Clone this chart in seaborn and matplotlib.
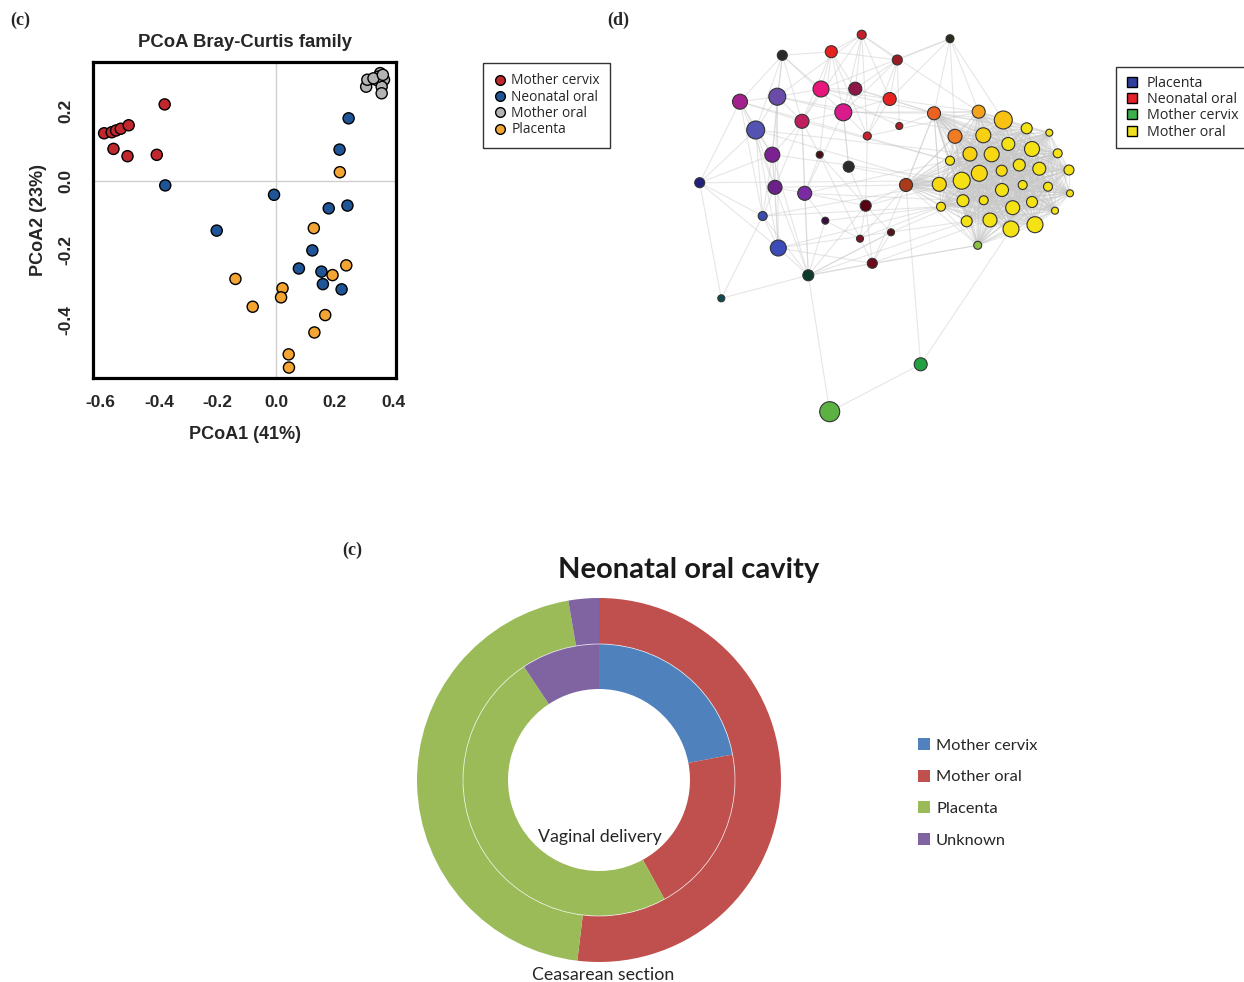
import itertools
import pandas as pd
import matplotlib
matplotlib.use("Agg")
import matplotlib.pyplot as plt
import seaborn as sns
from matplotlib.lines import Line2D
from matplotlib.patches import Patch
from matplotlib.collections import LineCollection

# ---- (c) PCoA Bray-Curtis family ----
cervix_x = [-0.588, -0.562, -0.547, -0.531, -0.504, -0.556, -0.508, -0.408, -0.381]
cervix_y = [0.137, 0.140, 0.145, 0.150, 0.160, 0.092, 0.071, 0.075, 0.220]
neo_x = [-0.379, -0.007, -0.203, 0.248, 0.217, 0.180, 0.244, 0.124, 0.078, 0.155, 0.160, 0.224]
neo_y = [-0.013, -0.040, -0.143, 0.180, 0.090, -0.079, -0.071, -0.200, -0.252, -0.261, -0.297, -0.312]
moral_x = [0.308, 0.312, 0.342, 0.356, 0.369, 0.361, 0.361, 0.350, 0.333, 0.365]
moral_y = [0.271, 0.291, 0.291, 0.310, 0.291, 0.271, 0.252, 0.300, 0.295, 0.305]
plac_x = [0.218, 0.129, 0.240, 0.193, -0.139, 0.022, 0.017, -0.080, 0.168, 0.131, 0.043, 0.044]
plac_y = [0.025, -0.136, -0.243, -0.271, -0.282, -0.309, -0.335, -0.362, -0.386, -0.436, -0.499, -0.537]

pcoa_groups = ["Mother cervix", "Neonatal oral", "Mother oral", "Placenta"]
pcoa_colors = ["#c0282d", "#1f5597", "#b3b3b3", "#f2a533"]
x_ticks = [-0.6, -0.4, -0.2, 0.0, 0.2, 0.4]
x_labels = ["-0.6", "-0.4", "-0.2", "0.0", "0.2", "0.4"]
y_ticks = [-0.4, -0.2, 0.0, 0.2]
y_labels = ["-0.4", "-0.2", "0.0", "0.2"]

# ---- (d) network: nodes in picture pixels ----
net_x = [861.7, 950.0, 782.3, 831.3, 897.3, 821.0, 855.3, 889.7, 740.0, 777.3,
         843.3, 802.0, 755.7, 899.3, 867.3, 934.0, 978.7, 1003.3, 955.0, 772.3,
         819.7, 848.7, 699.7, 775.0, 804.7, 906.0, 762.7, 825.3, 865.7, 860.0,
         891.0, 778.3, 872.3, 808.3, 721.3, 977.7, 920.7, 829.7,
         983.3, 1026.7, 1049.3, 1008.3, 1032.0, 970.0, 991.7, 950.0, 1057.7, 1019.3,
         1001.7, 979.3, 1039.3, 1069.0, 961.7, 939.3, 1022.7, 1002.0, 1048.0, 1070.0,
         963.0, 983.7, 1012.7, 1032.0, 941.0, 1055.0, 966.7, 990.0, 1011.0, 1035.0]
net_y = [34.7, 38.7, 55.3, 51.7, 60.0, 89.0, 88.7, 99.0, 101.7, 96.7,
         112.3, 121.3, 130.0, 126.0, 136.0, 113.3, 111.7, 120.0, 136.3, 154.7,
         154.7, 166.7, 182.7, 187.3, 193.3, 185.0, 216.0, 220.7, 205.7, 238.7,
         232.3, 248.0, 263.3, 275.3, 298.3, 245.3, 364.3, 411.7,
         135.3, 128.3, 132.7, 144.0, 149.0, 154.0, 154.3, 160.7, 153.3, 165.0,
         170.7, 173.3, 168.7, 170.0, 180.7, 184.3, 185.0, 190.0, 186.7, 193.3,
         200.7, 200.3, 207.7, 202.0, 206.7, 210.7, 221.3, 220.0, 229.0, 224.7]
net_d = [9, 8, 10, 12, 10, 16, 13, 13, 15, 17,
         17, 14, 18, 7, 8, 13, 13, 18, 14, 15,
         7, 11, 10, 14, 14, 13, 9, 7, 11, 7,
         7, 16, 10, 11, 7, 8, 13, 20,
         15, 11, 7, 13, 15, 14, 15, 9, 9, 12,
         11, 16, 13, 10, 17, 14, 9, 13, 9, 7,
         12, 9, 14, 11, 9, 7, 11, 14, 16, 16]
net_color = ["#c41e2a", "#2b2b1e", "#2a2a2a", "#e8221f", "#9b1b22", "#e8167a", "#8c1646",
             "#e82121", "#a3218f", "#6b4ba8", "#d81b8b", "#c01f5f", "#5452b2", "#b31b21",
             "#c9202a", "#ee6221", "#f5a31a", "#f8c212", "#f07b22", "#7b2191", "#4b0b12",
             "#2b2b2b", "#22227b", "#6b2189", "#7b2ba1", "#a93b1a", "#3b4bb2", "#3b0b42",
             "#5b0011", "#7b1121", "#5b1119", "#3b4bb9", "#6b0b1b", "#0b3b2b", "#0b4b51",
             "#8bc142", "#21a142", "#5bb142",
             "#f8d012", "#f5e214", "#f5e214", "#f5e214", "#f5e214", "#f8d012", "#f8d812",
             "#f5e214", "#f5e214", "#f5e214", "#f8d812", "#f8d812", "#f5e214", "#f5e214",
             "#f5e214", "#f8d812", "#f5e214", "#f5e214", "#f5e214", "#f5e214", "#f5e214",
             "#f5e214", "#f5e214", "#f5e214", "#f5e214", "#f5e214", "#f5e214", "#f5e214",
             "#f5e214", "#f5e214"]
net_edges = [(0, 3), (0, 4), (0, 6), (0, 10), (0, 11), (0, 7), (0, 14), (0, 16), (0, 9),
             (1, 4), (1, 7), (1, 16), (1, 15), (1, 18), (1, 5), (1, 17),
             (2, 9), (2, 12), (2, 5), (2, 3), (2, 10), (2, 19), (2, 8), (2, 11),
             (3, 5), (3, 10), (3, 11), (3, 6), (3, 20), (3, 4), (3, 14),
             (4, 6), (4, 7), (4, 13), (4, 14), (4, 10),
             (5, 9), (5, 11), (5, 6), (5, 13), (5, 7), (5, 15),
             (6, 10), (6, 7), (6, 15), (7, 15), (7, 16), (7, 14), (7, 10),
             (8, 9), (8, 12), (8, 19), (8, 22), (8, 23), (8, 11), (8, 26),
             (9, 12), (9, 19), (9, 11), (9, 23), (9, 31), (9, 10),
             (10, 11), (10, 14), (10, 15), (10, 21), (10, 24), (10, 16),
             (11, 19), (11, 23), (11, 24), (11, 33), (11, 20),
             (12, 19), (12, 22), (12, 23), (12, 26), (12, 31),
             (13, 15), (14, 16), (14, 28), (19, 23), (19, 22), (19, 26), (19, 31), (19, 33),
             (20, 28), (20, 29), (20, 24), (21, 28), (21, 10),
             (22, 26), (22, 31), (22, 34), (23, 24), (23, 26), (23, 31), (23, 33),
             (24, 33), (24, 28), (24, 27), (25, 36), (25, 29), (25, 28), (25, 32), (25, 15),
             (26, 34), (26, 31), (26, 33), (27, 29), (27, 33), (28, 29), (28, 30), (28, 32),
             (29, 32), (30, 32), (30, 33), (31, 33), (31, 32), (32, 33), (32, 35),
             (33, 34), (33, 37), (33, 35), (33, 28), (33, 30), (36, 37), (36, 66),
             (19, 52), (23, 53), (24, 58), (31, 62), (33, 64), (32, 65), (12, 43),
             (11, 45), (26, 53), (22, 52), (9, 38), (8, 45), (29, 62), (30, 58),
             (21, 53), (28, 52), (24, 45), (27, 62), (31, 64), (12, 53), (26, 62)]
# dense core: the orange and yellow nodes are all linked to one another
core = [15, 16, 17, 18, 25, 35] + list(range(38, 68))
net_edges += list(itertools.combinations(core, 2))

# ---- (c) Neonatal oral cavity donut ----
sources = ["Mother cervix", "Mother oral", "Placenta", "Unknown"]
src_colors = ["#4f81bd", "#c0504d", "#9bbb59", "#8064a2"]
vaginal = [22.0, 20.0, 48.7, 9.3]
cesarean = [0.0, 51.9, 45.4, 2.7]

sns.set_style("white")
plt.rcParams["font.family"] = ["Liberation Sans", "DejaVu Sans"]

W, H = 1244, 982
fig = plt.figure(figsize=(W / 100, H / 100), dpi=100)


def box(x0, y0, x1, y1):
    return [x0 / W, 1 - y1 / H, (x1 - x0) / W, (y1 - y0) / H]


# PCoA panel
ax = fig.add_axes(box(93, 62, 396, 378))
df = pd.DataFrame({
    "PC1": cervix_x + neo_x + moral_x + plac_x,
    "PC2": cervix_y + neo_y + moral_y + plac_y,
    "group": (["Mother cervix"] * len(cervix_x) + ["Neonatal oral"] * len(neo_x)
              + ["Mother oral"] * len(moral_x) + ["Placenta"] * len(plac_x)),
})
ax.axhline(0, color="#cfcfcf", lw=1, zorder=0)
ax.axvline(0, color="#cfcfcf", lw=1, zorder=0)
sns.scatterplot(data=df, x="PC1", y="PC2", hue="group", hue_order=pcoa_groups,
                palette=pcoa_colors, s=64, edgecolor="black", linewidth=1,
                legend=False, ax=ax, zorder=3)
ax.set_xlim(-0.626, 0.41)
ax.set_ylim(-0.567, 0.342)
ax.set_xticks(x_ticks, x_labels, fontsize=12.5, fontweight="bold")
ax.set_yticks(y_ticks, y_labels, fontsize=12.5, fontweight="bold", rotation=90, va="center")
ax.tick_params(length=6, width=1, color="black", direction="out", pad=6)
ax.tick_params(axis="y", pad=8)
for sp in ax.spines.values():
    sp.set_linewidth(2.3)
    sp.set_color("black")
ax.set_xlabel("PCoA1 (41%)", fontsize=13, fontweight="bold", labelpad=12)
ax.set_ylabel("PCoA2 (23%)", fontsize=13, fontweight="bold", labelpad=8)
ax.set_title("PCoA Bray-Curtis family", fontsize=13.3, fontweight="bold", pad=11)

handles = [Line2D([], [], marker="o", ls="", markersize=7, markerfacecolor=c,
                  markeredgecolor="black", markeredgewidth=1) for c in pcoa_colors]
leg = fig.legend(handles, pcoa_groups, loc="upper left",
                 bbox_to_anchor=(483 / W, 1 - 63 / H), frameon=True, fancybox=False,
                 labelspacing=0.1, handletextpad=0.3, handlelength=1.0,
                 borderpad=0.75, borderaxespad=0, prop={"family": "Open Sans", "size": 9.9})
leg.get_frame().set_edgecolor("black")
leg.get_frame().set_linewidth(1)

# network panel
axn = fig.add_axes(box(670, 15, 1110, 440))
axn.set_xlim(670, 1110)
axn.set_ylim(440, 15)
axn.axis("off")
segs = [[(net_x[a], net_y[a]), (net_x[b], net_y[b])] for a, b in net_edges]
axn.add_collection(LineCollection(segs, colors="#c8c8c8", linewidths=0.8, alpha=0.45, zorder=1))
axn.scatter(net_x, net_y, s=[(d * 0.72) ** 2 for d in net_d], c=net_color,
            edgecolors="#333333", linewidths=0.8, zorder=3)

net_leg_names = ["Placenta", "Neonatal oral", "Mother cervix", "Mother oral"]
net_leg_colors = ["#2e3f9e", "#e8202a", "#3cb04a", "#f0e020"]
nh = [Line2D([], [], marker="s", ls="", markersize=7, markerfacecolor=c,
             markeredgecolor="black", markeredgewidth=1) for c in net_leg_colors]
leg2 = fig.legend(nh, net_leg_names, loc="upper left",
                  bbox_to_anchor=(1116 / W, 1 - 67 / H), frameon=True, fancybox=False,
                  labelspacing=0.1, handletextpad=0.55, handlelength=1.0,
                  borderpad=0.6, borderaxespad=0, prop={"family": "Open Sans", "size": 10.3})
leg2.get_frame().set_edgecolor("black")
leg2.get_frame().set_linewidth(1)

# donut panel
axd = fig.add_axes(box(399, 580, 799, 980))
axd.pie(cesarean, radius=182, colors=src_colors, startangle=90, counterclock=False,
        wedgeprops=dict(width=46, edgecolor="none"))
axd.pie(vaginal, radius=136, colors=src_colors, startangle=90, counterclock=False,
        wedgeprops=dict(width=45, edgecolor="none"))
axd.add_patch(plt.Circle((0, 0), 136, fill=False, edgecolor="white", lw=0.6, alpha=0.7))
axd.set_xlim(-200, 200)
axd.set_ylim(-200, 200)
axd.set_aspect("equal")
axd.text(1, -57, "Vaginal delivery", ha="center", va="center", fontsize=12.8,
         family="Lato", color="#262626")
axd.text(4, -195, "Ceasarean section", ha="center", va="center", fontsize=12.8,
         family="Lato", color="#262626")

fig.text(689 / W, 1 - 570 / H, "Neonatal oral cavity", ha="center", va="center",
         fontsize=21, fontweight="bold", family="Lato", color="#1a1a1a")

dh = [Patch(facecolor=c, edgecolor="none") for c in src_colors]
fig.legend(dh, sources, loc="upper left", bbox_to_anchor=(918 / W, 1 - 738 / H),
           frameon=False, labelspacing=1.03, handletextpad=0.35, handlelength=0.75,
           handleheight=0.75, borderpad=0, borderaxespad=0,
           prop={"family": "Lato", "size": 11.8})

# panel letters
for px, py, lab in [(20, 20, "(c)"), (618, 20, "(d)"), (352, 550, "(c)")]:
    fig.text(px / W, 1 - py / H, lab, ha="center", va="center", fontsize=13,
             fontweight="bold", family="Liberation Serif")

fig.savefig("out.png", dpi=100)
